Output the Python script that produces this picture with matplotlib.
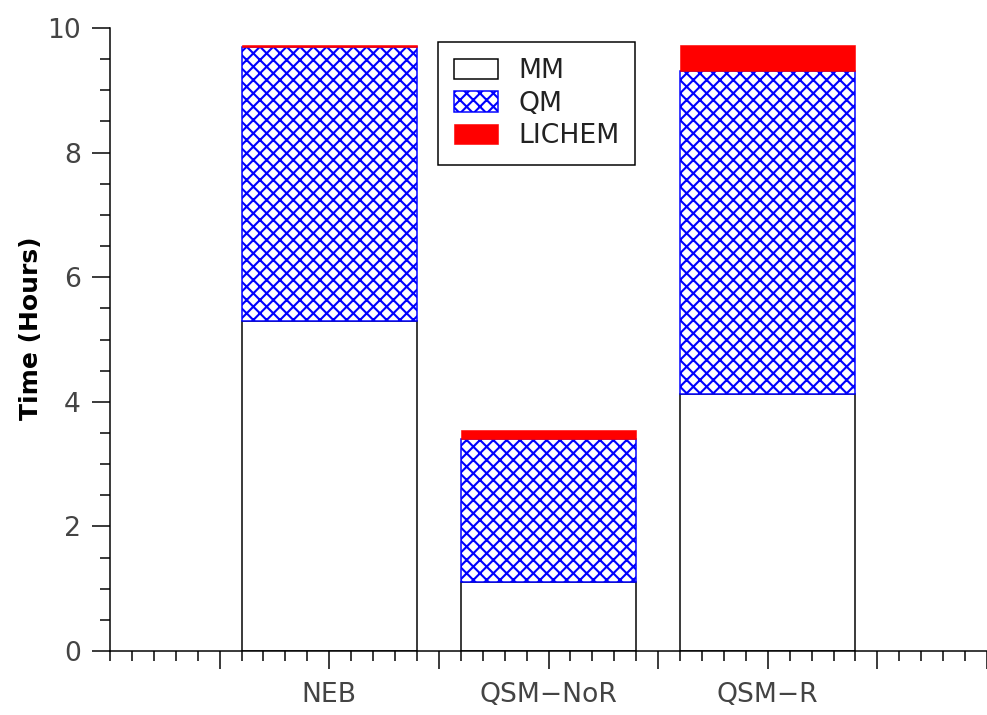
import matplotlib
matplotlib.use('Agg')
import matplotlib.pyplot as plt
from matplotlib.ticker import MultipleLocator, FixedLocator, FixedFormatter
import numpy as np

# timing breakdown per method (hours)
categories = ['NEB', 'QSM\u2212NoR', 'QSM\u2212R']
mm_time = [5.30, 1.10, 4.12]
qm_time = [4.39, 2.30, 5.19]
lichem_time = [0.04, 0.15, 0.42]

DPI = 80
plt.rcParams['font.family'] = 'DejaVu Sans'
plt.rcParams['hatch.linewidth'] = 1.9

fig = plt.figure(figsize=(987 / DPI, 715 / DPI), dpi=DPI)
ax = fig.add_axes([110 / 987, 64 / 715, 877 / 987, 623 / 715])

pos = np.array([2, 4, 6])
width = 1.6
mm = np.array(mm_time)
qm = np.array(qm_time)
li = np.array(lichem_time)

ax.bar(pos, mm, width, color='white', edgecolor='black', linewidth=1.35, label='MM')
ax.bar(pos, qm, width, bottom=mm, color='white', edgecolor='blue',
       hatch='xx', linewidth=1.35, label='QM')
ax.bar(pos, li, width, bottom=mm + qm, color='red', edgecolor='red',
       linewidth=0.5, label='LICHEM')

ax.set_xlim(0, 8)
ax.set_ylim(0, 10)

ax.spines['top'].set_visible(False)
ax.spines['right'].set_visible(False)
for s in ['left', 'bottom']:
    ax.spines[s].set_linewidth(1.35)

# categories sit on every second major tick
major = list(range(1, 9))
labels = ['' for _ in major]
for p, c in zip(pos, categories):
    labels[major.index(p)] = c
ax.xaxis.set_major_locator(FixedLocator(major))
ax.xaxis.set_major_formatter(FixedFormatter(labels))
ax.xaxis.set_minor_locator(MultipleLocator(0.2))
ax.yaxis.set_major_locator(MultipleLocator(2))
ax.yaxis.set_minor_locator(MultipleLocator(0.5))

ax.tick_params(which='major', direction='out', length=16, width=1.35,
               labelsize=24, labelcolor='#444444')
ax.tick_params(which='minor', direction='out', length=9, width=1.35)
ax.tick_params(axis='x', which='major', pad=12)
ax.tick_params(axis='y', which='major', pad=10)

ax.set_ylabel('Time (Hours)', fontsize=22.5, fontweight='bold')
ax.yaxis.set_label_coords(-0.076, 0.518)

leg = ax.legend(loc='upper left', bbox_to_anchor=(438 / 987, 1 - 42 / 715),
                bbox_transform=fig.transFigure, borderaxespad=0,
                fontsize=24, fancybox=False, shadow=False, framealpha=1,
                edgecolor='black', handlelength=1.65, handleheight=0.8,
                handletextpad=0.75, labelspacing=0.25, borderpad=0.6)
leg.get_frame().set_linewidth(1.35)
for t in leg.get_texts():
    t.set_color('#222222')

fig.savefig('out.png', dpi=DPI)
